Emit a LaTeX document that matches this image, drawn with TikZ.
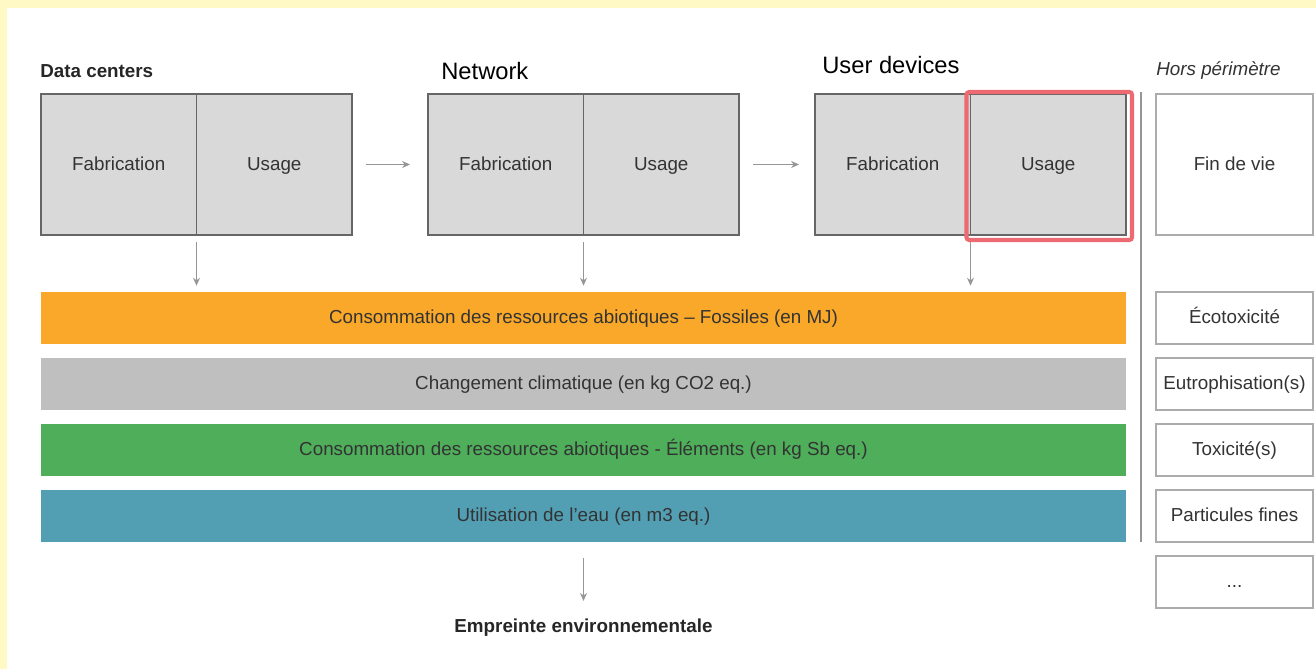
\documentclass[tikz,border=0pt]{standalone}
\usepackage{fontspec}
\setmainfont{Liberation Sans}
\usepackage{tikz}
\usetikzlibrary{arrows.meta,calc,positioning}

\definecolor{framebg}{RGB}{255,249,198}
\definecolor{cellgray}{RGB}{217,217,217}
\definecolor{boxgray}{RGB}{102,102,102}
\definecolor{sidegray}{RGB}{172,172,172}
\definecolor{arrowgray}{RGB}{150,150,150}
\definecolor{txtgray}{RGB}{51,51,51}
\definecolor{fossilorange}{RGB}{249,168,41}
\definecolor{climgray}{RGB}{191,191,191}
\definecolor{elemgreen}{RGB}{78,174,90}
\definecolor{waterteal}{RGB}{82,159,180}
\definecolor{hlred}{RGB}{238,106,114}

\tikzset{
  cell/.style={draw=boxgray,line width=1.1pt,fill=cellgray,text=txtgray,
    minimum width=31.1mm,minimum height=28.2mm,inner sep=0pt,outer sep=0pt,
    text height=1.5ex,text depth=0.3ex,font=\fontsize{10.7}{13}\selectfont},
  sidebox/.style={draw=sidegray,line width=0.8pt,fill=white,text=txtgray,
    minimum width=31.4mm,minimum height=10.4mm,inner sep=0pt,
    text height=1.5ex,text depth=0.3ex,font=\fontsize{10.7}{13}\selectfont},
  bar/.style={minimum width=217mm,minimum height=10.4mm,inner sep=0pt,
    text height=1.5ex,text depth=0.3ex,text=txtgray,font=\fontsize{10.7}{13}\selectfont},
  arr/.style={draw=arrowgray,line width=0.6pt,-{Stealth[length=4.5pt,width=4pt]}},
  sepline/.style={draw=arrowgray,line width=1pt},
  highlight/.style={draw=hlred,line width=2.3pt,rounded corners=1.5pt},
  title/.style={anchor=west,inner sep=0pt},
}

\begin{document}
\begin{tikzpicture}[x=0.2mm,y=-0.2mm]
  \useasboundingbox[fill=framebg] (0,0) rectangle (1316,669);
  \fill[white] (7,8) rectangle (1316,669);

  \node[title,font=\fontsize{10.7}{13}\selectfont\bfseries,text=black!85] (dctitle) at (40,71) {Data centers};
  \node[title,font=\fontsize{13.5}{16}\selectfont] (nwtitle) at (441,71) {Network};
  \node[title,font=\fontsize{13.5}{16}\selectfont] (udtitle) at (822,65) {User devices};
  \node[title,font=\fontsize{10.7}{13}\selectfont\itshape,text=txtgray] (hptitle) at (1156,71) {Hors périmètre};

  \node[cell] (dcfab) at (118.75,164.5) {Fabrication};
  \node[cell,right=0pt of dcfab] (dcuse) {Usage};
  \node[cell] (nwfab) at (505.75,164.5) {Fabrication};
  \node[cell,right=0pt of nwfab] (nwuse) {Usage};
  \node[cell] (udfab) at (892.75,164.5) {Fabrication};
  \node[cell,right=0pt of udfab] (uduse) {Usage};
  \draw[highlight] ($(uduse.north west)+(-4,-2)$) rectangle ($(uduse.south east)+(6,5)$);

  \node[bar,fill=fossilorange] (fossil) at (583.5,318) {Consommation des ressources abiotiques – Fossiles (en MJ)};
  \node[bar,fill=climgray] (climate) at (583.5,384) {Changement climatique (en kg CO2 eq.)};
  \node[bar,fill=elemgreen] (elements) at (583.5,450) {Consommation des ressources abiotiques - Éléments (en kg Sb eq.)};
  \node[bar,fill=waterteal] (water) at (583.5,516) {Utilisation de l’eau (en m3 eq.)};

  \node[sidebox,minimum height=28.2mm] (endlife) at (1234.5,164.5) {Fin de vie};
  \node[sidebox] (ecotox) at (1234.5,318) {Écotoxicité};
  \node[sidebox] (eutro) at (1234.5,384) {Eutrophisation(s)};
  \node[sidebox] (toxic) at (1234.5,450) {Toxicité(s)};
  \node[sidebox] (particles) at (1234.5,516) {Particules fines};
  \node[sidebox] (others) at (1234.5,582) {...};

  \node[font=\fontsize{10.7}{13}\selectfont\bfseries,text=black!85,inner sep=0pt] (footprint) at (583.5,628) {Empreinte environnementale};

  \draw[sepline] (1141,92) -- (1141,542);

  \draw[arr,shorten <=2.8mm,shorten >=3.6mm] (dcuse.east) -- (nwfab.west);
  \draw[arr,shorten <=2.8mm,shorten >=3.2mm] (nwuse.east) -- (udfab.west);
  \draw[arr,shorten <=1.4mm,shorten >=1.2mm] (dcfab.south east) -- (dcfab.south east |- fossil.north);
  \draw[arr,shorten <=1.4mm,shorten >=1.2mm] (nwfab.south east) -- (nwfab.south east |- fossil.north);
  \draw[arr,shorten <=1.4mm,shorten >=1.2mm] (udfab.south east) -- (udfab.south east |- fossil.north);
  \draw[arr,shorten <=3.2mm,shorten >=3.6mm] (water.south) -- (footprint.north);
\end{tikzpicture}
\end{document}
